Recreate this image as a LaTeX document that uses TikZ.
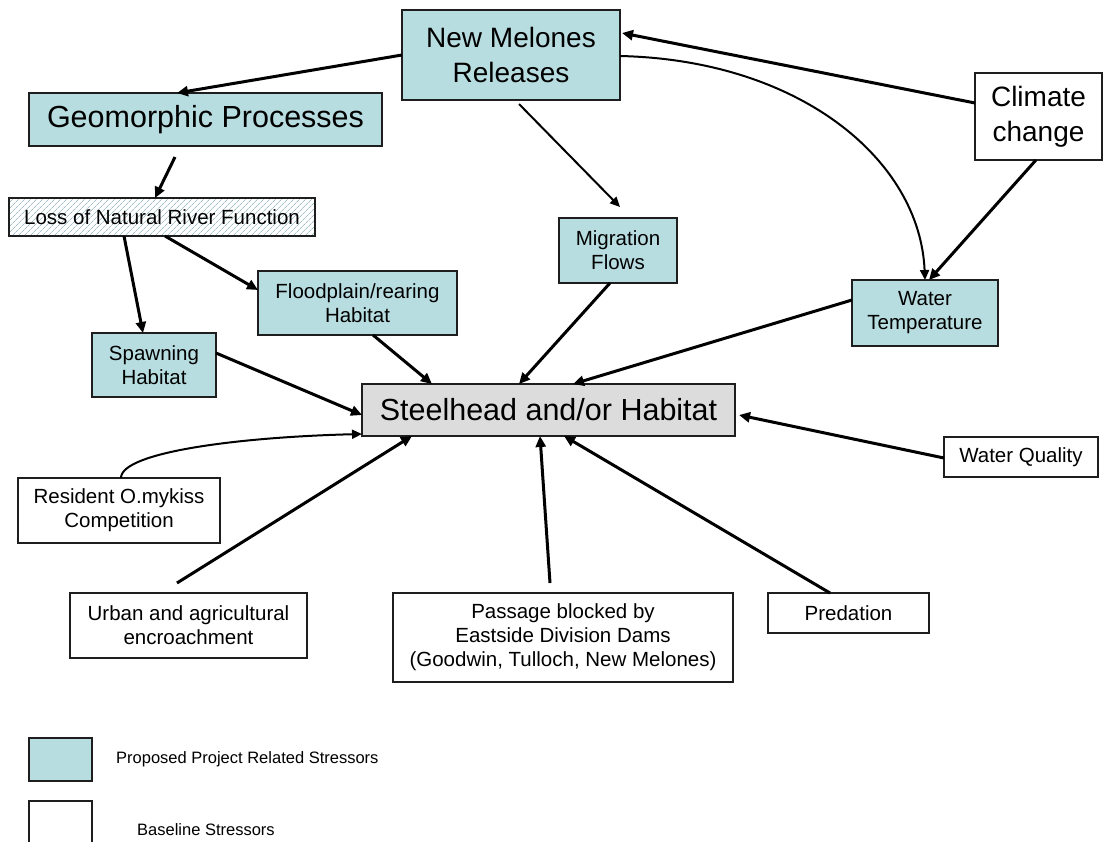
\documentclass[tikz,border=0pt]{standalone}
\usepackage{fontspec}
\setmainfont{Liberation Sans}
\usetikzlibrary{arrows.meta,patterns.meta}
\definecolor{stressblue}{RGB}{183,221,224}
\definecolor{hubgray}{RGB}{220,220,220}
\definecolor{edgecol}{RGB}{30,30,30}
\definecolor{hatchcol}{RGB}{160,192,198}

\begin{document}
\begin{tikzpicture}[x=1pt,y=-1pt,
  box/.style={draw=edgecol,line width=2pt,inner sep=0pt,outer sep=0pt,anchor=north west,align=center},
  proj/.style={box,fill=stressblue},
  basebox/.style={box,fill=white},
  hub/.style={box,fill=hubgray},
  hatched/.style={box,preaction={fill=white},pattern={Lines[angle=45,distance=4pt,line width=0.7pt]},pattern color=hatchcol},
  bigtxt/.style={font=\fontsize{28}{35}\selectfont},
  huge/.style={font=\fontsize{30.5}{36}\selectfont},
  midtxt/.style={font=\fontsize{20.5}{24}\selectfont},
  legtxt/.style={font=\fontsize{16.5}{20}\selectfont},
  link/.style={line width=3pt,-{Triangle[length=11pt,width=10pt]}},
  thinlink/.style={line width=2pt,-{Triangle[length=10pt,width=9pt]}},
]
\useasboundingbox[fill=white] (0,0) rectangle (1105,841);

% boxes
\node[proj,bigtxt,minimum width=218pt,minimum height=90pt] (nm) at (402,10) {New Melones\\Releases};
\node[basebox,bigtxt,minimum width=127pt,minimum height=87pt] (cc) at (975,73) {Climate\\change};
\node[proj,huge,minimum width=353pt,minimum height=53pt] (geo) at (29,93) {Geomorphic Processes};
\node[hatched,midtxt,minimum width=306pt,minimum height=38pt] (loss) at (9,198) {Loss of Natural River Function};
\node[proj,midtxt,minimum width=118pt,minimum height=65pt] (mig) at (559,218) {Migration\\Flows};
\node[proj,midtxt,minimum width=199pt,minimum height=64pt] (flood) at (258,271) {Floodplain/rearing\\Habitat};
\node[proj,midtxt,minimum width=124pt,minimum height=64pt] (spawn) at (92,333) {Spawning\\Habitat};
\node[proj,midtxt,minimum width=146pt,minimum height=66pt] (wt) at (852,280) {Water\\Temperature};
\node[hub,huge,minimum width=373pt,minimum height=52pt] (sh) at (362,384) {Steelhead and/or Habitat};
\node[basebox,midtxt,minimum width=154pt,minimum height=40pt] (wq) at (944,437) {Water Quality};
\node[basebox,midtxt,minimum width=202pt,minimum height=65pt] (res) at (18,478) {Resident O.mykiss\\Competition};
\node[basebox,midtxt,minimum width=237pt,minimum height=65pt] (urb) at (70,593) {Urban and agricultural\\encroachment};
\node[basebox,midtxt,minimum width=340pt,minimum height=89pt] (pas) at (393,593) {Passage blocked by\\Eastside Division Dams\\(Goodwin, Tulloch, New Melones)};
\node[basebox,midtxt,minimum width=161pt,minimum height=40pt] (pred) at (768,593) {Predation};

% legend
\node[proj,minimum width=63pt,minimum height=43pt] (leg1) at (29,738) {};
\node[basebox,minimum width=63pt,minimum height=50pt] (leg2) at (29,801) {};
\node[legtxt,anchor=base west,inner sep=0pt] (leg1txt) at (116,763) {Proposed Project Related Stressors};
\node[legtxt,anchor=base west,inner sep=0pt] (leg2txt) at (137,835) {Baseline Stressors};

% connectors
\draw[link] ([yshift=-30pt]cc.north west) -- ([xshift=2pt,yshift=-23pt]nm.north east);
\draw[link] ([yshift=-45pt]nm.north west) -- ([xshift=148pt]geo.north west);
\draw[thinlink] ([yshift=-46pt]nm.north east) .. controls (800,60) and (920,160) .. ([xshift=73pt]wt.north west);
\draw[link] ([xshift=61pt]cc.south west) -- ([xshift=77pt]wt.north west);
\draw[thinlink] ([xshift=117pt,yshift=-4pt]nm.south west) -- ([xshift=61pt,yshift=11pt]mig.north west);
\draw[link] ([xshift=146pt,yshift=-11pt]geo.south west) -- ([xshift=146pt]loss.north west);
\draw[link] ([xshift=115pt]loss.south west) -- ([xshift=51pt]spawn.north west);
\draw[link] ([xshift=156pt]loss.south west) -- ([yshift=-19pt]flood.north west);
\draw[link] ([xshift=115pt]flood.south west) -- ([xshift=70pt]sh.north west);
\draw[link] ([yshift=-20pt]spawn.north east) -- ([yshift=-31pt]sh.north west);
\draw[link] ([xshift=51pt]mig.south west) -- ([xshift=157pt]sh.north west);
\draw[link] ([yshift=-20pt]wt.north west) -- ([xshift=211pt]sh.north west);
\draw[link] ([yshift=-21pt]wq.north west) -- ([xshift=4pt,yshift=-31pt]sh.north east);
\draw[thinlink] ([xshift=103pt]res.north west) .. controls (121,452) and (240,437) .. ([yshift=2pt]sh.south west);
\draw[link] ([xshift=107pt,yshift=10pt]urb.north west) -- ([xshift=50pt]sh.south west);
\draw[link] ([xshift=157pt,yshift=10pt]pas.north west) -- ([xshift=178pt]sh.south west);
\draw[link] ([xshift=62pt]pred.north west) -- ([xshift=202pt]sh.south west);
\end{tikzpicture}
\end{document}
